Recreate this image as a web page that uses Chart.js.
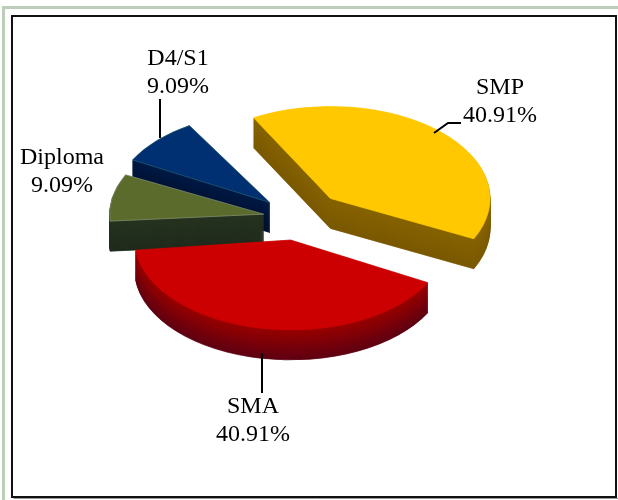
<!DOCTYPE html>
<html><head><meta charset="utf-8">
<style>html,body{margin:0;padding:0;background:#fff}#w{width:618px;height:500px}</style>
<script src="https://cdn.jsdelivr.net/npm/chart.js@4"></script></head>
<body><div id="w"><canvas id="c" width="618" height="500"></canvas></div>
<script>
const categories = ['SMP', 'SMA', 'Diploma', 'D4/S1'];
const values = [40.91, 40.91, 9.09, 9.09];
const percentLabels = ['40.91%', '40.91%', '9.09%', '9.09%'];

const topColors = ['#FFC800', '#CC0000', '#5A6B2C', '#002F72'];
const sideStart = ['#866300', '#980000', '#26331F', '#001A45'];
const sideEnd = ['#7A5800', '#5E0012', '#202A1C', '#000F2A'];
const edgeColors = ['#FFC800', '#CC0000', '#7E8C70', '#1F5A70'];
const offsets = [188, 156, 140, 156];
const squash = 0.576, depth = 30;
const labelBoxes = [
  {x: 500, y: 88, line: [[434,133],[448,123],[461,123]]},
  {x: 253, y: 407, line: [[262,353],[262,393]]},
  {x: 62, y: 158, line: null},
  {x: 178, y: 59, line: [[160,99],[160,138]]}
];
function mix(a, b, t) {
  const p = h => [1,3,5].map(i => parseInt(h.substr(i,2),16));
  const A = p(a), B = p(b);
  return 'rgb(' + A.map((v,i) => Math.round(v + (B[i]-v)*t)).join(',') + ')';
}
const pie3d = {
  id: 'pie3d',
  beforeDraw(chart) {
    const c = chart.ctx;
    c.save();
    c.fillStyle = '#fff'; c.fillRect(0,0,618,500);
    c.fillStyle = '#BCCDBA';
    c.fillRect(2, 6, 616, 3);
    c.fillRect(2, 6, 3, 494);
    c.strokeStyle = '#111'; c.lineWidth = 2;
    c.strokeRect(12, 16, 604, 481);
    c.strokeStyle = '#999'; c.lineWidth = 1;
    c.beginPath(); c.moveTo(13.5, 498.5); c.lineTo(618, 498.5); c.stroke();
    c.restore();
  },
  beforeDatasetsDraw(chart) {
    const c = chart.ctx, meta = chart.getDatasetMeta(0);
    const cx = meta.data[0].x, cy = meta.data[0].y;
    [3, 2, 1, 0].forEach(i => {
      const el = meta.data[i], base = el.options;
      for (let d = depth; d >= 0; d--) {
        const col = d === 0 ? topColors[i] : mix(sideStart[i], sideEnd[i], d / depth);
        el.options = Object.assign({}, base, {
          backgroundColor: col,
          borderColor: d === 0 ? edgeColors[i] : col,
          borderWidth: 1
        });
        c.save();
        c.translate(cx, cy + d);
        c.scale(1, squash);
        c.translate(-cx, -cy);
        el.draw(c);
        c.restore();
      }
      el.options = base;
    });
    return false;
  },
  afterDraw(chart) {
    const c = chart.ctx;
    c.save();
    c.font = '24px "Liberation Serif"';
    c.fillStyle = '#000'; c.textAlign = 'center'; c.textBaseline = 'middle';
    categories.forEach((name, i) => {
      const b = labelBoxes[i];
      c.fillText(name, b.x, b.y);
      c.fillText(percentLabels[i], b.x, b.y + 28);
      if (b.line) {
        c.strokeStyle = '#000'; c.lineWidth = 2;
        c.beginPath();
        b.line.forEach((p, k) => k ? c.lineTo(p[0], p[1]) : c.moveTo(p[0], p[1]));
        c.stroke();
      }
    });
    c.restore();
  }
};
new Chart(document.getElementById('c'), {
  type: 'pie',
  data: { labels: categories, datasets: [{ data: values, backgroundColor: topColors, offset: offsets, borderWidth: 0 }] },
  options: {
    responsive: false, animation: false, rotation: -30, radius: 138,
    layout: { padding: { left: 0, right: 22, top: 0, bottom: 64 } },
    plugins: { legend: { display: false }, tooltip: { enabled: false } }
  },
  plugins: [pie3d]
});
</script></body></html>
